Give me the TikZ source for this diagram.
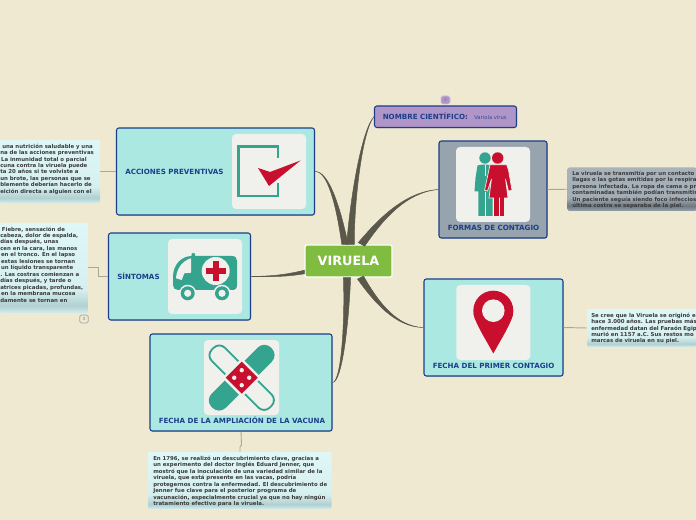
\documentclass[tikz,border=0pt]{standalone}
\usepackage{fontspec}
\setmainfont{DejaVu Sans}
\usetikzlibrary{calc,shadows}
\definecolor{bg}{HTML}{F0E9D2}
\definecolor{limb}{HTML}{5A584B}
\definecolor{twig}{HTML}{ABA795}
\definecolor{edge}{HTML}{1B3F8B}
\definecolor{aqua}{HTML}{ABE8E2}
\definecolor{card}{HTML}{F0F0EC}
\definecolor{teal}{HTML}{35A48F}
\definecolor{crimson}{HTML}{C8102E}
\definecolor{lilac}{HTML}{B095C8}
\definecolor{slate}{HTML}{97A3AD}
\definecolor{leaf}{HTML}{80BC3F}
\definecolor{ink}{HTML}{3A3A3A}
\definecolor{na}{HTML}{DFF7F7}
\definecolor{nb}{HTML}{D6EFEF}
\definecolor{nc}{HTML}{B2D0D1}
\definecolor{nd}{HTML}{D2EDED}
\definecolor{ga}{HTML}{A9B3BB}
\definecolor{gb}{HTML}{A3ADB6}
\definecolor{gc}{HTML}{6E7881}
\definecolor{gd}{HTML}{97A3AD}
\pgfdeclareverticalshading{notegrad}{100bp}{color(0bp)=(nd);color(25bp)=(nd);color(29bp)=(nc);color(38bp)=(nb);color(75bp)=(na);color(100bp)=(na)}
\pgfdeclareverticalshading{slategrad}{100bp}{color(0bp)=(gd);color(25bp)=(gd);color(31bp)=(gc);color(40bp)=(gb);color(75bp)=(ga);color(100bp)=(ga)}
\newcommand{\branch}[6]{%
  \fill[limb,draw=limb,line width=.35pt] ($(#1)+(#5,#6)$) .. controls ($(#2)+0.55*(#5,#6)$) and ($(#3)+0.15*(#5,#6)$) .. (#4)
    .. controls ($(#3)-0.15*(#5,#6)$) and ($(#2)-0.55*(#5,#6)$) .. ($(#1)-(#5,#6)$) -- cycle;}
\tikzset{
  sz/.style 2 args={minimum width=#1*0.75pt,minimum height=#2*0.75pt,inner sep=0pt},
  topic/.style={rectangle,rounded corners=1.8pt,draw=edge,line width=.8pt,fill=aqua,
    drop shadow={shadow xshift=.5pt,shadow yshift=-.6pt,opacity=.3}},
  iconcard/.style={rectangle,rounded corners=3pt,fill=card},
  notebox/.style={rectangle,rounded corners=1.5pt,shading=notegrad},
  slatebox/.style={rectangle,rounded corners=1.5pt,shading=slategrad},
  title/.style={inner sep=0pt,text=edge,font=\fontsize{5.34}{6}\selectfont\bfseries},
  para/.style={inner sep=0pt,anchor=north west,align=left,text=ink,font=\fontsize{4.05}{4.84}\selectfont\bfseries},
  twigline/.style={draw=twig,line width=.7pt},
  badge/.style={rectangle,rounded corners=1.2pt,line width=.5pt,inner sep=0pt,text=ink!70,font=\fontsize{3.2}{4}\selectfont},
}
\begin{document}
\begin{tikzpicture}[x=0.75pt,y=-0.75pt]
\useasboundingbox (0,0) rectangle (696,520);
\fill[bg] (0,0) rectangle (696,520);

% notes
\node[notebox,sz={100}{63}] (noteacc) at (50,171.5) {};
\node[notebox,sz={88}{90}] (notesin) at (44,268) {};
\node[slatebox,sz={129}{43.5}] (noteform) at (632,189.25) {};
\node[notebox,sz={109}{38}] (notefecha) at (641.5,328) {};
\node[notebox,sz={183.5}{57}] (notevac) at (239.75,480.5) {};

% topics
\node[topic,sz={198}{87}] (acc) at (215.5,171.5) {};
\node[topic,sz={142}{87}] (sin) at (179.5,276.5) {};
\node[topic,fill=lilac,sz={142}{21.5}] (nom) at (445.5,116.75) {};
\node[topic,fill=slate,sz={108}{97}] (form) at (493,189.5) {};
\node[topic,sz={139}{97}] (fecha) at (493.5,327.5) {};
\node[topic,sz={182}{97}] (vac) at (241,382.5) {};
\node[rectangle,rounded corners=1.5pt,draw=white,line width=.9pt,fill=leaf,sz={87}{32},
  text=white,font=\fontsize{9.6}{11}\selectfont\bfseries] (root) at (348.5,261) {VIRUELA};

% main branches
\coordinate (sa) at ($(root.north)+(-3.5,0)$);
\coordinate (sn) at ($(root.north)+(2,0)$);
\coordinate (sf) at ($(root.north)+(13,0)$);
\coordinate (sh) at ($(root.south)+(12,0)$);
\coordinate (sv) at ($(root.south)+(-1.5,0)$);
\coordinate (ss) at ($(root.west)+(0,11)$);
\branch{sa}{338,205}{328,171}{acc.east}{3.2}{0}
\branch{sn}{352,200}{362,130}{nom.west}{3.8}{0}
\branch{sf}{380,220}{405,192}{form.west}{3.2}{1.8}
\branch{sh}{375,300}{395,327}{fecha.west}{3}{-1.5}
\branch{sv}{347,320}{342,382}{vac.east}{3.6}{0}
\branch{ss}{285,276}{270,276.5}{sin.east}{0}{1.8}

% note connectors
\coordinate (k1) at (98,267);
\coordinate (k2) at (98,276.5);
\coordinate (k3) at (241.5,445);
\coordinate (k4) at (240,447);
\draw[twigline] (noteacc.east) -- (acc.west);
\draw[twigline] (noteform.west) -- (form.east);
\draw[twigline] (notefecha.west) -- (fecha.east);
\draw[twigline] (notesin.east|-k1) -- (k1) -- (k2) -- (sin.west);
\draw[twigline] (vac.south) -- (k3) -- (k4) -- (k4|-notevac.north);

% icon cards
\node[iconcard,sz={74}{75}] (cardacc) at (269,171.5) {};
\node[iconcard,sz={74}{75}] (cardsin) at (205,276.5) {};
\node[iconcard,sz={74}{75}] (cardform) at (493,184.5) {};
\node[iconcard,sz={74}{75}] (cardfecha) at (493.3,322.5) {};
\node[iconcard,sz={75}{75}] (cardvac) at (241.5,377.5) {};

% check icon
\draw[teal,line width=1.9pt] (278,158) -- (278,146.3) -- (238.3,146.3) -- (238.3,195.8) -- (278,195.8) -- (278,183);
\fill[crimson] (258,168) -- (270,172) -- (300.5,160.5) -- (269,186) -- cycle;

% ambulance icon
\fill[teal] (173,277) .. controls (173,265) and (181,256) .. (192,256) -- (232,256)
  .. controls (235.5,256) and (237,258) .. (237,261) -- (237,285) .. controls (237,288.5) and (235.5,290) .. (232,290)
  -- (178,290) .. controls (175,290) and (173,288) .. (173,285) -- cycle;
\fill[teal] (193.3,255) circle (2);
\fill[card] (176,278.3) .. controls (176.5,269) and (182,261) .. (191,258.3) -- (191,272.7) -- (184.3,273.3) -- (181.7,280) -- cycle;
\fill[card] (215.7,271) circle (14);
\fill[crimson] (212.7,261) rectangle (218.7,281);
\fill[crimson] (205.7,268) rectangle (225.7,274);
\foreach \wx in {187.7,222}{
  \fill[card] (\wx,293.3) circle (8.6);
  \fill[teal] (\wx,293.3) circle (7);
  \fill[card] (\wx,293.3) circle (3.6);
}

% people icon
\fill[teal] (485,158) circle (5.7);
\fill[teal] (477.5,165.5) -- (481.5,164.7) -- (488,164.7) -- (492.5,166) -- (492.5,216) -- (478.3,216) -- (478.3,191.5) -- (474.5,191.5) -- (475.5,178) -- cycle;
\draw[card,line width=.35pt] (485,165) -- (485,176);
\draw[card,line width=.35pt] (485,192) -- (485,216);
\fill[crimson,draw=card,line width=.5pt] (490,164.7) -- (506.7,164.7) -- (508.5,170) -- (512,190.3) -- (508.5,191) -- (505.5,179) -- (508,198) -- (489,198) -- (491.5,179) -- (487.5,191) -- (484.6,190.3) -- cycle;
\fill[crimson] (494.3,197) rectangle (498.6,216);
\fill[crimson] (500,197) rectangle (504.3,216);
\fill[crimson] (497.7,158) circle (5.7);

% pin icon
\fill[crimson] (493.3,310.7) circle (20);
\fill[crimson] (473.5,313.5) .. controls (475,323) and (486,340) .. (493.3,353.5) .. controls (500.6,340) and (511.6,323) .. (513.1,313.5) -- cycle;
\fill[card] (493.3,310.7) circle (11.3);

% bandage icon
\begin{scope}[shift={(241.7,377.7)},rotate=-45]
  \draw[teal,line width=1.4pt] (14,-9.3) [rounded corners=6pt] -- (41,-9.3) -- (41,9.3) [sharp corners] -- (14,9.3);
  \draw[teal,line width=1.4pt] (-14,-9.3) [rounded corners=6pt] -- (-41,-9.3) -- (-41,9.3) [sharp corners] -- (-14,9.3);
\end{scope}
\begin{scope}[shift={(241.7,377.7)},rotate=45]
  \fill[teal] (14,-10) [rounded corners=7pt] -- (42,-10) -- (42,10) [sharp corners] -- (14,10) -- cycle;
  \fill[teal] (-14,-10) [rounded corners=7pt] -- (-42,-10) -- (-42,10) [sharp corners] -- (-14,10) -- cycle;
\end{scope}
\fill[crimson] (241.7,361.7) -- (257.7,377.7) -- (241.7,393.7) -- (225.7,377.7) -- cycle;
\foreach \dx/\dy in {0/-7.5,7.5/0,0/7.5,-7.5/0}{\fill[card] (241.7+\dx,377.7+\dy) circle (2.2);}

% titles
\node[title,anchor=west] (tacc) at (125,171.5) {ACCIONES PREVENTIVAS};
\node[title,anchor=west] (tsin) at (117,276.3) {SÍNTOMAS};
\node[title,anchor=west] (tnom) at (382.5,116.3) {NOMBRE CIENTÍFICO:};
\node[inner sep=0pt,anchor=west,text=edge!85!lilac,font=\fontsize{3.95}{5}\selectfont] (tvar) at (474,118) {Variola virus};
\node[title,anchor=west] (tform) at (447.5,227.8) {FORMAS DE CONTA\raisebox{-.35pt}{GIO}};
\node[title,anchor=west] (tfecha) at (432.5,365.7) {FECHA DEL PRIMER CO\raisebox{-.35pt}{NTAGIO}};
\node[title,anchor=west] (tvac) at (158.5,420.5) {FECHA DE LA AMPLIACIÓN DE LA VACUNA};

% badges
\node[badge,fill=lilac,draw=lilac!60!white,sz={9}{8}] (b1) at (445.5,100) {3};
\node[badge,fill=bg,draw=black!35,sz={8.5}{8}] (b2) at (84,319) {3};

% note texts
\node[para] (pacc) at (0,143.6) {\hspace*{1.5pt}una nutrición saludable y una\\
na de las acciones preventivas\\
\hspace*{.6pt}La inmunidad total o parcial\\
cuna contra la viruela puede\\
ta 20 años si te volviste a\\
un brote, las personas que se\\
blemente deberían hacerlo de\\
eición directa a alguien con el};
\node[para] (psin) at (0,226.5) {\hspace*{1.3pt}Fiebre, sensación de\\
cabeza, dolor de espalda,\\
días después, unas\\
cen en la cara, las manos\\
\hspace*{.6pt}en el tronco. En el lapso\\
\hspace*{.6pt}estas lesiones se tornan\\
\hspace*{.6pt}un líquido transparente\\
. Las costras comienzan a\\
días después, y tarde o\\
atrices picadas, profundas,\\
\hspace*{.6pt}en la membrana mucosa\\
damente se tornan en};
\node[para] (pform) at (572,170.8) {La viruela se transmitía por un contacto\\
llagas o las gotas emitidas por la respira\\
persona infectada. La ropa de cama o pr\\
contaminadas también podían transmitir\\
Un paciente seguía siendo foco infeccios\\
última costra se separaba de la piel.};
\node[para] (pfecha) at (591,312.6) {Se cree que la Viruela se originó e\\
hace 3.000 años. Las pruebas más\\
enfermedad datan del Faraón Egip\\
murió en 1157 a.C. Sus restos mo\\
marcas de viruela en su piel.};
\node[para] (pvac) at (153,455.8) {En 1796, se realizó un descubrimiento clave, gracias a\\
un experimento del doctor Inglés Eduard Jenner, que\\
mostró que la inoculación de una variedad similar de la\\
viruela, que está presente en las vacas, podría\\
protegernos contra la enfermedad. El descubrimiento de\\
Jenner fue clave para el posterior programa de\\
vacunación, especialmente crucial ya que no hay ningún\\
tratamiento efectivo para la viruela.};
\end{tikzpicture}
\end{document}
